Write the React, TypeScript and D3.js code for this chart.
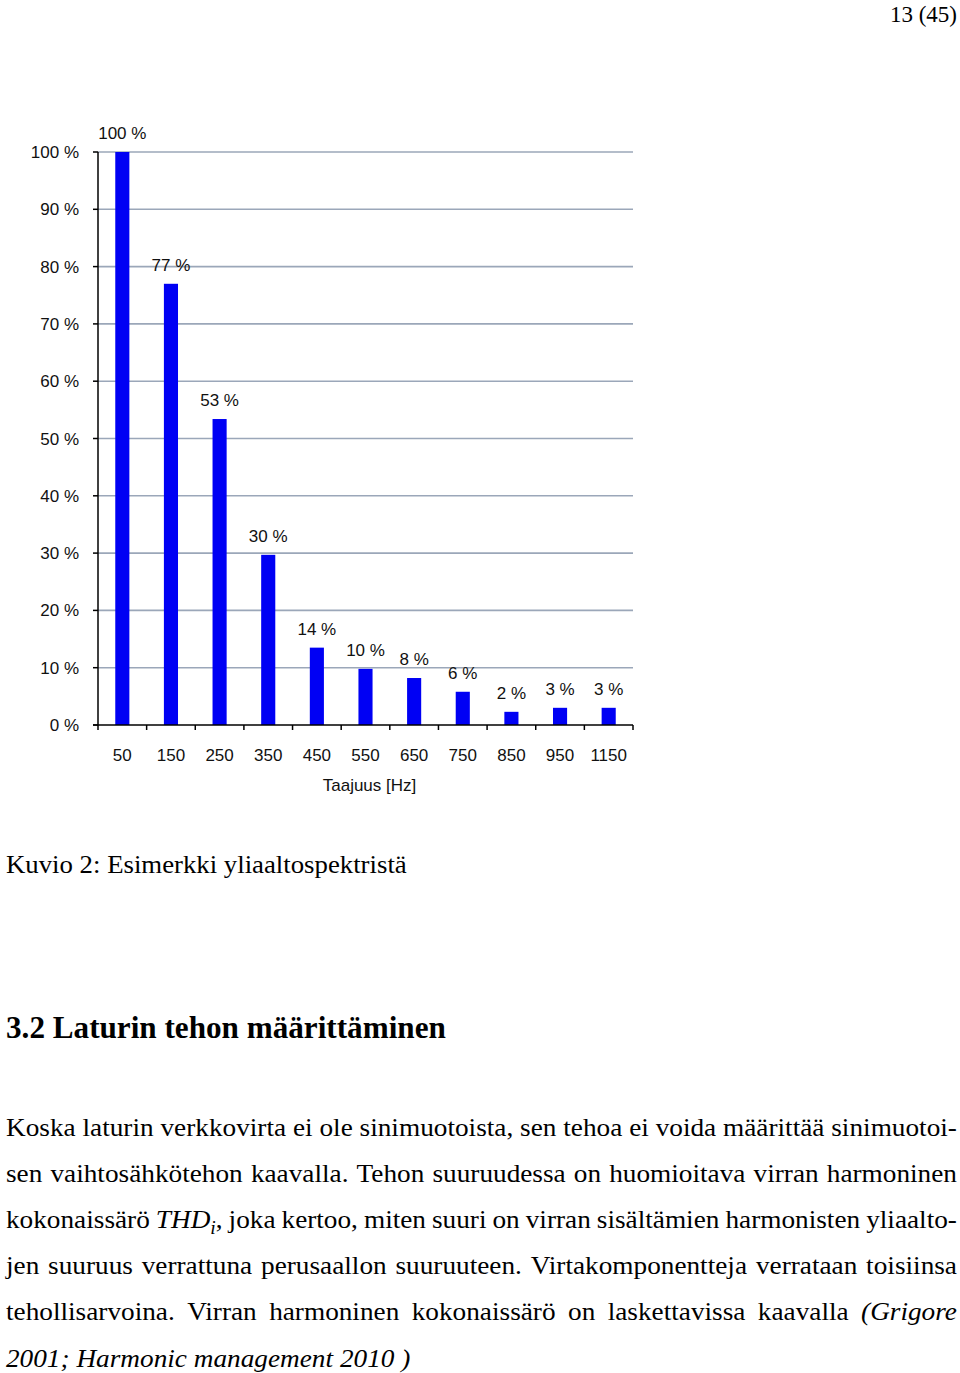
import React, { useEffect, useRef } from "react";
import * as d3 from "d3";

const categories = ["50", "150", "250", "350", "450", "550", "650", "750", "850", "950", "1150"];
const values = [100, 77, 53.4, 29.7, 13.5, 9.8, 8.2, 5.8, 2.3, 3, 3];
const valueLabels = ["100 %", "77 %", "53 %", "30 %", "14 %", "10 %", "8 %", "6 %", "2 %", "3 %", "3 %"];
const yTicks = [0, 10, 20, 30, 40, 50, 60, 70, 80, 90, 100];
const xTitle = "Taajuus [Hz]";
const pageNumber = "13 (45)";
const caption = "Kuvio 2: Esimerkki yliaaltospektristä";
const heading = "3.2 Laturin tehon määrittäminen";

type Run = { t: string; i?: boolean; sub?: boolean };
const bodyLines: Run[][] = [
  [{ t: "Koska laturin verkkovirta ei ole sinimuotoista, sen tehoa ei voida määrittää sinimuotoi-" }],
  [{ t: "sen vaihtosähkötehon kaavalla. Tehon suuruudessa on huomioitava virran harmoninen" }],
  [
    { t: "kokonaissärö " },
    { t: "THD", i: true },
    { t: "i", i: true, sub: true },
    { t: ", joka kertoo, miten suuri on virran sisältämien harmonisten yliaalto-" },
  ],
  [{ t: "jen suuruus verrattuna perusaallon suuruuteen. Virtakomponentteja verrataan toisiinsa" }],
  [{ t: "tehollisarvoina. Virran harmoninen kokonaissärö on laskettavissa kaavalla " }, { t: "(Grigore", i: true }],
  [{ t: "2001; Harmonic management 2010 )", i: true }],
];

function toWords(runs: Run[]): Run[][] {
  const words: Run[][] = [[]];
  runs.forEach((r) => {
    const pieces = r.t.split(" ");
    pieces.forEach((p, k) => {
      if (k > 0) words.push([]);
      if (p.length) words[words.length - 1].push({ ...r, t: p });
    });
  });
  return words.filter((w) => w.length);
}

export default function App() {
  const ref = useRef<SVGSVGElement>(null);

  useEffect(() => {
    const svg = d3.select(ref.current!);
    svg.selectAll("*").remove();

    const sans = "'Liberation Sans', Arial, sans-serif";
    const serif = "'Liberation Serif', 'Times New Roman', serif";

    // ---------- chart ----------
    const x0 = 98, x1 = 633, yTop = 152, yBot = 725;
    const x = d3.scaleBand<string>().domain(categories).range([x0, x1]).paddingInner(0.71).paddingOuter(0.355);
    const y = d3.scaleLinear().domain([0, 100]).range([yBot, yTop]);
    const step = x.step();

    const g = svg.append("g");
    g.selectAll("line.grid")
      .data(yTicks.filter((t) => t > 0))
      .join("line")
      .attr("x1", x0)
      .attr("x2", x1)
      .attr("y1", (d) => y(d))
      .attr("y2", (d) => y(d))
      .attr("stroke", "#9ba7b9")
      .attr("stroke-width", 1.6);

    g.selectAll("rect.bar")
      .data(values)
      .join("rect")
      .attr("x", (_, i) => x(categories[i])!)
      .attr("width", x.bandwidth())
      .attr("y", (d) => y(d))
      .attr("height", (d) => yBot - y(d))
      .attr("fill", "#0000f4");

    g.selectAll("text.vlab")
      .data(values)
      .join("text")
      .attr("x", (_, i) => x(categories[i])! + x.bandwidth() / 2)
      .attr("y", (d) => y(d) - 13)
      .attr("text-anchor", "middle")
      .attr("font-family", sans)
      .attr("font-size", 17)
      .attr("fill", "#111")
      .text((_, i) => valueLabels[i]);

    // y axis
    g.append("line").attr("x1", x0).attr("x2", x0).attr("y1", yTop).attr("y2", yBot).attr("stroke", "#000").attr("stroke-width", 1.5);
    g.selectAll("line.ytick")
      .data(yTicks)
      .join("line")
      .attr("x1", x0 - 5)
      .attr("x2", x0)
      .attr("y1", (d) => y(d))
      .attr("y2", (d) => y(d))
      .attr("stroke", "#000")
      .attr("stroke-width", 1.5);
    g.selectAll("text.ylab")
      .data(yTicks)
      .join("text")
      .attr("x", 79)
      .attr("y", (d) => y(d) + 6)
      .attr("text-anchor", "end")
      .attr("font-family", sans)
      .attr("font-size", 17)
      .attr("fill", "#111")
      .text((d) => `${d} %`);

    // x axis
    g.append("line").attr("x1", x0 - 5).attr("x2", x1).attr("y1", yBot).attr("y2", yBot).attr("stroke", "#000").attr("stroke-width", 1.5);
    g.selectAll("line.xtick")
      .data(d3.range(categories.length + 1))
      .join("line")
      .attr("x1", (i) => x0 + i * step)
      .attr("x2", (i) => x0 + i * step)
      .attr("y1", yBot)
      .attr("y2", yBot + 5)
      .attr("stroke", "#000")
      .attr("stroke-width", 1.5);
    g.selectAll("text.xlab")
      .data(categories)
      .join("text")
      .attr("x", (d) => x(d)! + x.bandwidth() / 2)
      .attr("y", 761)
      .attr("text-anchor", "middle")
      .attr("font-family", sans)
      .attr("font-size", 17)
      .attr("fill", "#111")
      .text((d) => d);
    g.append("text")
      .attr("x", (x0 + x1) / 2 + 4)
      .attr("y", 791)
      .attr("text-anchor", "middle")
      .attr("font-family", sans)
      .attr("font-size", 17)
      .attr("fill", "#111")
      .text(xTitle);

    // ---------- page text ----------
    svg.append("text")
      .attr("x", 957)
      .attr("y", 22)
      .attr("text-anchor", "end")
      .attr("font-family", serif)
      .attr("font-size", 23)
      .attr("fill", "#000")
      .text(pageNumber);

    const fitText = (txt: string, xPos: number, yPos: number, size: number, width: number, weight: string) => {
      const t = svg.append("text")
        .attr("font-family", serif)
        .attr("font-size", size)
        .attr("font-weight", weight)
        .attr("fill", "#000")
        .text(txt);
      const w = (t.node() as SVGTextElement).getComputedTextLength();
      const s = width / w;
      t.attr("transform", `translate(${xPos},${yPos}) scale(${s},1)`);
    };
    fitText(caption, 6, 873, 25, 401, "normal");
    fitText(heading, 6, 1038, 31, 440, "bold");

    // body: justified lines built from measured words
    const bodySize = 26;
    const bodyX = 6, bodyW = 951, base0 = 1136, lh = 46.1;
    const makeWord = (word: Run[]) => {
      const t = svg.append("text")
        .attr("font-family", serif)
        .attr("font-size", bodySize)
        .attr("fill", "#000");
      let shifted = false;
      word.forEach((r) => {
        const ts = t.append("tspan").text(r.t).attr("font-style", r.i ? "italic" : "normal");
        if (r.sub && !shifted) {
          ts.attr("dy", 6).attr("font-size", bodySize * 0.72);
          shifted = true;
        } else if (!r.sub && shifted) {
          ts.attr("dy", -6);
          shifted = false;
        }
      });
      return t;
    };
    // measure a space
    const sp = svg.append("text").attr("font-family", serif).attr("font-size", bodySize).text("a a");
    const spa = svg.append("text").attr("font-family", serif).attr("font-size", bodySize).text("aa");
    const spaceW = (sp.node() as SVGTextElement).getComputedTextLength() - (spa.node() as SVGTextElement).getComputedTextLength();
    sp.remove();
    spa.remove();

    const lineWords = bodyLines.map(toWords);
    const measured = lineWords.map((words) =>
      words.map((w) => {
        const t = makeWord(w);
        return { t, w: (t.node() as SVGTextElement).getComputedTextLength() };
      })
    );
    // horizontal condensation from first (tight) line
    const first = measured[0];
    const natural0 = d3.sum(first, (d) => d.w) + spaceW * (first.length - 1);
    const sx = bodyW / natural0;

    measured.forEach((words, li) => {
      const yPos = base0 + li * lh;
      const total = d3.sum(words, (d) => d.w) * sx;
      const last = li === measured.length - 1;
      const gap = last ? spaceW * sx : (bodyW - total) / (words.length - 1);
      let cx = bodyX;
      words.forEach((d) => {
        d.t.attr("transform", `translate(${cx},${yPos}) scale(${sx},1)`);
        cx += d.w * sx + gap;
      });
    });
  }, []);

  return (
    <svg
      ref={ref}
      width={960}
      height={1373}
      style={{ position: "absolute", left: 0, top: 0, background: "#fff" }}
    />
  );
}
